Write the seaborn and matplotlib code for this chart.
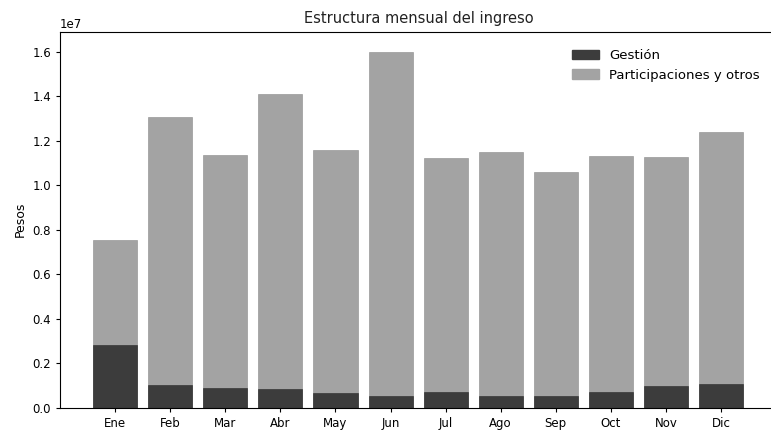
import matplotlib
matplotlib.use("Agg")
import matplotlib.pyplot as plt
import matplotlib.patches as mpatches
import numpy as np
import seaborn as sns

meses = ["Ene", "Feb", "Mar", "Abr", "May", "Jun",
         "Jul", "Ago", "Sep", "Oct", "Nov", "Dic"]
# valores en pesos
gestion = [2.81e6, 1.03e6, 0.88e6, 0.83e6, 0.66e6, 0.54e6,
           0.69e6, 0.51e6, 0.52e6, 0.69e6, 0.96e6, 1.06e6]
participaciones = [4.72e6, 12.06e6, 10.46e6, 13.28e6, 10.94e6, 15.47e6,
                   10.54e6, 10.97e6, 10.06e6, 10.61e6, 10.30e6, 11.35e6]

if __name__ == "__main__":
    color_gestion = "#3c3c3c"
    color_part = "#a3a3a3"

    total = np.array(gestion) + np.array(participaciones)

    fig = plt.figure(figsize=(7.71, 4.30), dpi=100)
    ax = fig.add_axes([0.078, 0.052, 0.93, 0.874])

    # barra total (parte clara) y encima la parte de gestion
    sns.barplot(x=meses, y=total, order=meses, color=color_part,
                saturation=1, width=0.8, ax=ax, edgecolor="#8a8a8a", linewidth=0.4)
    sns.barplot(x=meses, y=gestion, order=meses, color=color_gestion,
                saturation=1, width=0.8, ax=ax, edgecolor="#2a2a2a", linewidth=0.4)

    ax.set_xlim(-1, 12.02)
    ax.set_ylim(0, 1.69e7)
    ax.set_title("Estructura mensual del ingreso", fontsize=10.5, color="#222222")
    ax.set_ylabel("Pesos", fontsize=9)
    ax.set_xlabel("")
    ax.tick_params(labelsize=8.5, length=3)
    ax.yaxis.get_offset_text().set_fontsize(8.5)

    handles = [mpatches.Patch(color=color_gestion, label="Gestión"),
               mpatches.Patch(color=color_part, label="Participaciones y otros")]
    ax.legend(handles=handles, loc="upper right", frameon=False, fontsize=9.5,
              borderaxespad=0.9)

    plt.savefig("out.png", dpi=100)
